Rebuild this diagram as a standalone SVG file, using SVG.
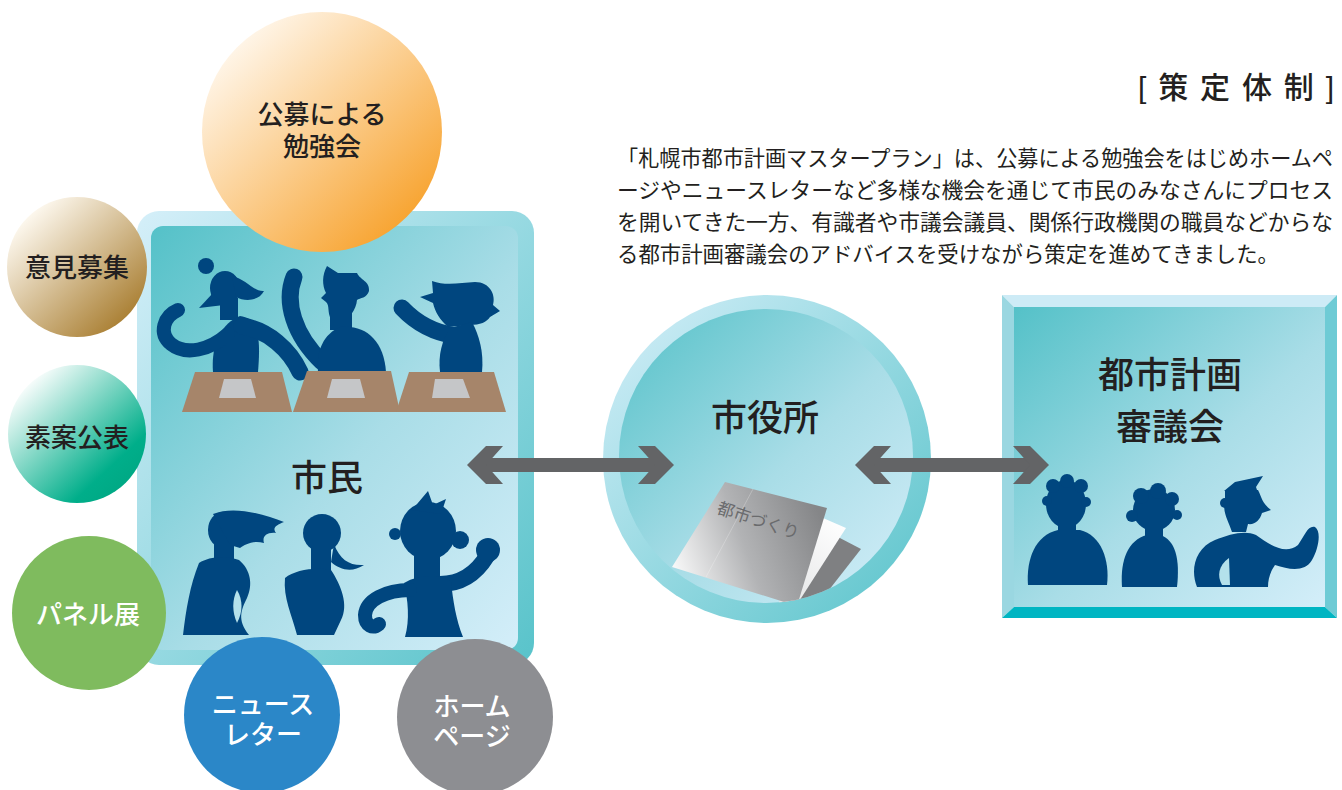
<svg xmlns="http://www.w3.org/2000/svg" width="1342" height="790" viewBox="0 0 1342 790">
  <defs>
    <linearGradient id="frameGrad" x1="0" y1="0" x2="1" y2="1">
      <stop offset="0" stop-color="#d5eff9"/>
      <stop offset="1" stop-color="#58c3ca"/>
    </linearGradient>
    <linearGradient id="panelGrad" x1="0" y1="0" x2="1" y2="1">
      <stop offset="0" stop-color="#54c1c8"/>
      <stop offset="0.55" stop-color="#a9dde7"/>
      <stop offset="1" stop-color="#d4eef9"/>
    </linearGradient>
    <linearGradient id="orangeGrad" x1="0.15" y1="0.1" x2="0.9" y2="0.9">
      <stop offset="0" stop-color="#fff7ec"/>
      <stop offset="1" stop-color="#f7a028"/>
    </linearGradient>
    <linearGradient id="goldGrad" x1="0.15" y1="0.1" x2="0.9" y2="0.9">
      <stop offset="0" stop-color="#fffbf3"/>
      <stop offset="1" stop-color="#a67a2b"/>
    </linearGradient>
    <linearGradient id="greenGrad" x1="0.15" y1="0.1" x2="0.85" y2="0.85">
      <stop offset="0" stop-color="#ffffff"/>
      <stop offset="0.85" stop-color="#00ae8a"/>
      <stop offset="1" stop-color="#00a985"/>
    </linearGradient>
    <linearGradient id="coverGrad" gradientUnits="userSpaceOnUse" x1="672" y1="585" x2="825" y2="530">
      <stop offset="0" stop-color="#ffffff"/>
      <stop offset="0.5" stop-color="#b2b3b5"/>
      <stop offset="1" stop-color="#858688"/>
    </linearGradient>
    <linearGradient id="pageGrad" gradientUnits="userSpaceOnUse" x1="780" y1="600" x2="840" y2="520">
      <stop offset="0" stop-color="#e4e5e6"/>
      <stop offset="1" stop-color="#ffffff"/>
    </linearGradient>
    <clipPath id="hallClip">
      <circle cx="766" cy="456" r="147"/>
    </clipPath>
    <style>
      .lbl { font-family: "Liberation Sans", "Noto Sans CJK JP", sans-serif; font-weight: 500; text-anchor: middle; dominant-baseline: central; }
      .dark { fill: #231f20; }
      .white { fill: #ffffff; }
      .big { font-size: 36px; }
      .mid { font-size: 26px; }
      .body { font-family: "Liberation Sans", "Noto Sans CJK JP", sans-serif; font-size: 21.2px; fill: #231f20; dominant-baseline: central; }
      .head { font-family: "Liberation Sans", "Noto Sans CJK JP", sans-serif; font-size: 30px; font-weight: 500; fill: #231f20; dominant-baseline: central; }
      .navy { fill: #00467f; }
      .arm { fill: none; stroke: #00467f; stroke-linecap: round; stroke-linejoin: round; }
      .hole { fill: #b4e1eb; }
      .desk { fill: #a6856a; }
      .paper { fill: #c5c6c8; }
      .arrow { fill: #636466; }
    </style>
  </defs>

  <rect width="1342" height="790" fill="#ffffff"/>

  <!-- heading and description -->
  <g id="description">
    <text class="head" x="1138" y="87" textLength="196" lengthAdjust="spacing">[ 策 定 体 制 ]</text>
    <text class="body" x="617" y="158" textLength="716" lengthAdjust="spacingAndGlyphs">「札幌市都市計画マスタープラン」は、公募による勉強会をはじめホームペ</text>
    <text class="body" x="617" y="190" textLength="716" lengthAdjust="spacingAndGlyphs">ージやニュースレターなど多様な機会を通じて市民のみなさんにプロセス</text>
    <text class="body" x="617" y="222" textLength="716" lengthAdjust="spacingAndGlyphs">を開いてきた一方、有識者や市議会議員、関係行政機関の職員などからな</text>
    <text class="body" x="617" y="254" textLength="662" lengthAdjust="spacingAndGlyphs">る都市計画審議会のアドバイスを受けながら策定を進めてきました。</text>
  </g>

  <!-- citizens panel -->
  <g id="citizens">
    <rect x="137" y="211" width="397" height="454" rx="22" fill="url(#frameGrad)"/>
    <rect x="151" y="226" width="367" height="424" rx="12" fill="url(#panelGrad)"/>

    <!-- seated figure 1 -->
    <circle class="navy" cx="206" cy="266" r="8"/>
    <ellipse class="navy" cx="225" cy="288" rx="15" ry="17"/>
    <polygon class="navy" points="213,293 199,308 224,305"/>
    <path class="navy" d="M232,276 C246,279 254,292 264,291 C259,301 245,302 236,297 Z"/>
    <rect class="navy" x="220" y="298" width="18" height="22"/>
    <path class="navy" d="M213,372 C211,346 220,324 240,316 C254,318 262,326 258,372 Z"/>
    <path class="arm" stroke-width="17" d="M242,326 C268,330 290,350 300,372"/>
    <path class="arm" stroke-width="14" d="M228,334 C210,350 186,356 171,344 C158,333 164,316 178,310"/>

    <!-- seated figure 2 -->
    <path class="arm" stroke-width="17" d="M294,277 C284,302 294,335 322,362"/>
    <path class="navy" d="M327,266 L338,273 L357,273 C360,280 370,281 369,291 C367,298 360,298 357,300 C356,310 350,318 341,321 L331,319 C327,312 330,306 326,302 L321,298 L326,293 C322,285 322,275 327,266 Z"/>
    <rect class="navy" x="330" y="312" width="22" height="18"/>
    <path class="navy" d="M318,372 C316,350 324,334 340,327 C365,324 384,340 386,372 Z"/>

    <!-- seated figure 3 -->
    <path class="arm" stroke-width="17" d="M402,308 C418,325 436,333 456,336"/>
    <path class="navy" d="M432,281 C445,286 460,283 475,282 C490,282 496,295 493,305 L500,311 L490,317 C487,322 480,325 470,325 L448,327 C440,320 435,312 433,303 L420,297 L433,293 Z"/>
    <path class="navy" d="M440,372 C438,355 442,340 450,328 L472,322 C479,335 484,352 482,372 Z"/>

    <!-- desks -->
    <polygon class="desk" points="195,372 282,372 292,412 182,412"/>
    <polygon class="paper" points="224,379 251,379 256,398 219,398"/>
    <polygon class="desk" points="307,371 391,371 400,412 293,412"/>
    <polygon class="paper" points="332,379 360,379 365,398 327,398"/>
    <polygon class="desk" points="409,372 494,372 506,412 396,412"/>
    <polygon class="paper" points="435,379 463,379 470,398 432,398"/>

    <!-- standing figure 4 -->
    <ellipse class="navy" cx="223" cy="530" rx="15" ry="18"/>
    <path class="navy" d="M213,514 C235,505 265,515 284,522 C276,525 272,528 276,533 C266,532 262,537 264,543 C252,540 245,545 240,548 L230,545 Z"/>
    <rect class="navy" x="214" y="544" width="20" height="20"/>
    <path class="navy" d="M199,563 C210,556 226,556 239,560 C251,570 253,585 247,598 C241,610 237,620 249,635 L183,635 C186,610 190,585 199,563 Z"/>
    <path class="hole" d="M237,590 C243,600 243,612 237,623 C232,612 232,600 237,590 Z"/>

    <!-- standing figure 5 -->
    <ellipse class="navy" cx="322" cy="533" rx="19" ry="19"/>
    <path class="navy" d="M334,544 C340,560 350,566 364,565 C352,573 340,570 331,562 Z"/>
    <rect class="navy" x="311" y="548" width="20" height="24"/>
    <path class="navy" d="M285,578 C295,570 315,567 331,570 C341,585 349,605 341,620 L334,635 L297,635 C292,615 283,598 285,578 Z"/>

    <!-- standing figure 6 -->
    <ellipse class="navy" cx="428" cy="531" rx="28" ry="29"/>
    <polygon class="navy" points="412,510 428,491 433,505 446,499 441,514"/>
    <circle class="navy" cx="460" cy="540" r="9"/>
    <circle class="navy" cx="395" cy="534" r="6"/>
    <rect class="navy" x="414" y="555" width="26" height="30"/>
    <path class="arm" stroke-width="16" d="M440,584 C460,584 476,574 487,556"/>
    <circle class="navy" cx="488" cy="550" r="12"/>
    <path class="navy" d="M404,583 C420,574 440,574 451,582 C453,600 456,620 463,637 L405,637 C410,620 408,600 404,583 Z"/>
    <path class="arm" stroke-width="14" d="M410,590 C386,590 366,600 365,615 C365,626 373,629 379,624"/>

    <text class="lbl dark big" x="327" y="478">市民</text>
  </g>

  <!-- outreach circles -->
  <g id="study-group">
    <circle cx="322" cy="132" r="120" fill="url(#orangeGrad)"/>
    <text class="lbl dark mid" x="322" y="115">公募による</text>
    <text class="lbl dark mid" x="322" y="147">勉強会</text>
  </g>
  <g id="opinions">
    <circle cx="77" cy="267" r="70" fill="url(#goldGrad)"/>
    <text class="lbl dark mid" x="77" y="268">意見募集</text>
  </g>
  <g id="draft">
    <circle cx="77" cy="434" r="69" fill="url(#greenGrad)"/>
    <text class="lbl dark mid" x="77" y="438">素案公表</text>
  </g>
  <g id="panel-exhibit">
    <circle cx="89" cy="613" r="77" fill="#7fbb5e"/>
    <text class="lbl white mid" x="88" y="615">パネル展</text>
  </g>
  <g id="newsletter">
    <circle cx="262" cy="715" r="78" fill="#2b87c8"/>
    <text class="lbl white mid" x="263" y="705">ニュース</text>
    <text class="lbl white mid" x="263" y="735">レター</text>
  </g>
  <g id="homepage">
    <circle cx="475" cy="717" r="78" fill="#8d8e92"/>
    <text class="lbl white mid" x="472" y="707">ホーム</text>
    <text class="lbl white mid" x="472" y="737">ページ</text>
  </g>

  <!-- city hall -->
  <g id="city-hall">
    <circle cx="767" cy="459" r="164" fill="url(#frameGrad)"/>
    <circle cx="766" cy="456" r="147" fill="url(#panelGrad)"/>
    <text class="lbl dark big" x="765" y="418">市役所</text>
    <g clip-path="url(#hallClip)">
      <polygon fill="#7f8082" points="838,537 861,549 818,604 788,606"/>
      <polygon fill="url(#pageGrad)" points="823,518 846,528 796,606 777,606"/>
      <polygon fill="url(#coverGrad)" points="725,482 827,508 797,606 672,567"/>
      <line x1="753" y1="489" x2="706" y2="577" stroke="#ffffff" stroke-opacity="0.35" stroke-width="0.7"/>
      <text x="716" y="513" transform="rotate(18 716 513)" font-family="Liberation Sans, Noto Sans CJK JP, sans-serif" font-size="17" fill="#6a6b6d">都市づくり</text>
    </g>
  </g>

  <!-- planning council -->
  <g id="council">
    <polygon fill="#cdebf6" points="1002,295 1337,295 1325,307 1014,307"/>
    <polygon fill="#9ad7e1" points="1002,295 1014,307 1014,607 1002,618"/>
    <polygon fill="#6ecbd5" points="1337,295 1337,618 1325,607 1325,307"/>
    <polygon fill="#00b5c2" points="1002,618 1014,607 1325,607 1337,618"/>
    <rect x="1014" y="307" width="311" height="300" fill="url(#panelGrad)"/>
    <text class="lbl dark big" x="1170" y="375">都市計画</text>
    <text class="lbl dark big" x="1170" y="427">審議会</text>

    <!-- member A -->
    <ellipse class="navy" cx="1066" cy="504" rx="20" ry="24"/>
    <circle class="navy" cx="1053" cy="486" r="7"/>
    <circle class="navy" cx="1067" cy="481" r="7"/>
    <circle class="navy" cx="1081" cy="486" r="7"/>
    <circle class="navy" cx="1047" cy="501" r="5"/>
    <circle class="navy" cx="1086" cy="502" r="5"/>
    <rect class="navy" x="1058" y="520" width="18" height="14"/>
    <path class="navy" d="M1028,585 C1026,560 1035,535 1058,530 L1080,530 C1101,535 1110,560 1107,585 Z"/>

    <!-- member B -->
    <ellipse class="navy" cx="1154" cy="510" rx="21" ry="21"/>
    <circle class="navy" cx="1141" cy="496" r="8"/>
    <circle class="navy" cx="1158" cy="491" r="8"/>
    <circle class="navy" cx="1172" cy="499" r="7"/>
    <circle class="navy" cx="1132" cy="516" r="6"/>
    <circle class="navy" cx="1177" cy="515" r="5"/>
    <rect class="navy" x="1145" y="526" width="18" height="12"/>
    <path class="navy" d="M1122,587 C1120,560 1128,540 1147,535 L1160,535 C1176,540 1180,560 1177,587 Z"/>

    <!-- member C -->
    <polygon class="navy" points="1224,491 1235,482 1263,476 1256,487 1258,493"/>
    <path class="navy" d="M1225,490 L1258,490 C1262,498 1262,503 1271,510 L1262,513 C1260,520 1255,525 1248,524 L1246,532 L1232,532 C1228,520 1222,512 1225,500 Z"/>
    <circle class="navy" cx="1225" cy="503" r="5"/>
    <path class="navy" d="M1197,587 C1190,570 1195,548 1215,540 C1230,534 1245,530 1256,535 C1270,545 1285,555 1298,545 C1305,535 1308,525 1315,527 C1322,532 1318,550 1312,560 C1305,572 1290,570 1275,565 C1270,572 1268,580 1268,587 Z"/>
    <path class="hole" d="M1229,558 C1218,566 1217,576 1222,585 L1230,585 Z"/>
  </g>

  <!-- connectors -->
  <g id="connectors">
    <rect class="arrow" x="486" y="458" width="169" height="14"/>
    <polygon class="arrow" points="467,465 486,446 503,446 486,465 503,484 486,484"/>
    <polygon class="arrow" points="674,465 655,446 638,446 655,465 638,484 655,484"/>
    <rect class="arrow" x="874" y="458" width="156" height="14"/>
    <polygon class="arrow" points="855,465 874,446 891,446 874,465 891,484 874,484"/>
    <polygon class="arrow" points="1049,465 1030,446 1013,446 1030,465 1013,484 1030,484"/>
  </g>
</svg>
